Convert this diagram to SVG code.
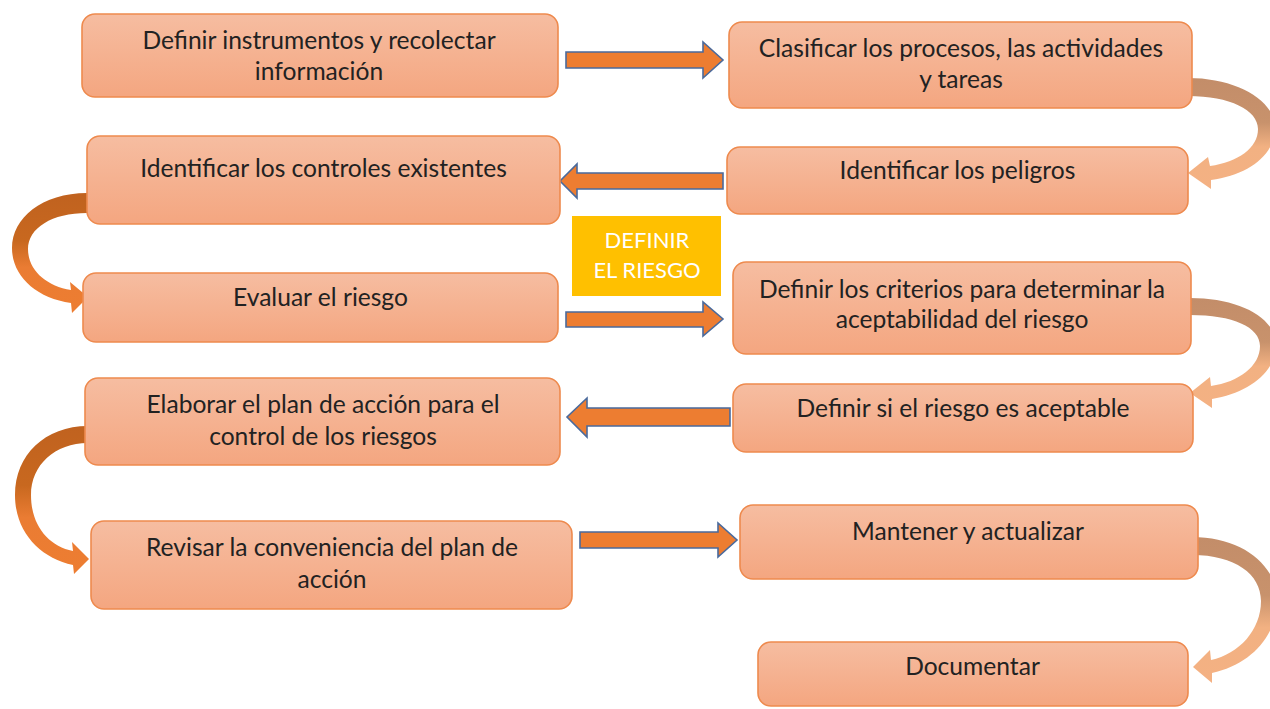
<svg xmlns="http://www.w3.org/2000/svg" width="1270" height="709" viewBox="0 0 1270 709">
<style>
.box{fill:url(#gBox);stroke:#EE8A4E;stroke-width:1.6}
.t{font-family:Lato,"Liberation Sans",Arial,sans-serif;font-size:24.6px;fill:#222;text-anchor:middle}
.yt{font-family:Lato,"Liberation Sans",Arial,sans-serif;font-size:22px;fill:#FFFFFF;text-anchor:middle}
.sa{fill:#ED7D31;stroke:#4A6A9C;stroke-width:1.6;stroke-linejoin:miter}
.cr{fill:url(#gRight)}
.cl{fill:url(#gLeft)}
</style>
<defs>
<linearGradient id="gBox" x1="0" y1="0" x2="0" y2="1">
<stop offset="0" stop-color="#F6BDA1"/>
<stop offset="1" stop-color="#F4A680"/>
</linearGradient>
<linearGradient id="gRight" x1="0" y1="0" x2="0" y2="1">
<stop offset="0" stop-color="#C38D69"/>
<stop offset="0.4" stop-color="#C8926C"/>
<stop offset="0.62" stop-color="#F2B182"/>
<stop offset="1" stop-color="#F4B183"/>
</linearGradient>
<linearGradient id="gLeft" x1="0" y1="0" x2="0" y2="1">
<stop offset="0" stop-color="#C0621F"/>
<stop offset="0.4" stop-color="#C8681F"/>
<stop offset="0.62" stop-color="#EA7C33"/>
<stop offset="1" stop-color="#ED7D31"/>
</linearGradient>
</defs>
<rect width="1270" height="709" fill="#FFFFFF"/>

<g id="connectors">
<polygon class="sa" points="566,52 703,52 703,42 723,60 703,78 703,68 566,68"/>
<polygon class="sa" points="723,173 577,173 577,164 560,181 577,198 577,189 723,189"/>
<polygon class="sa" points="566,312 703,312 703,302 723,319 703,336 703,327 566,327"/>
<polygon class="sa" points="730,408 587,408 587,398 567,417 587,437 587,426 730,426"/>
<polygon class="sa" points="580,532 718,532 718,523 737,540 718,557 718,548 580,548"/>
<path class="cr" d="M1188,78 C1236,78 1275,100 1275,128 C1275,155 1248,175 1211,180 L1211,189 L1188,173 L1208,157 L1210,166 C1238,162 1258,148 1258,129 C1258,110 1230,96 1188,96 Z"/>
<path class="cr" d="M1190,298 C1240,298 1276,318 1276,345 C1276,372 1249,393 1212,399 L1212,408 L1190,393 L1210,377 L1211,386 C1239,382 1260,366 1260,346 C1260,327 1233,315 1190,315 Z"/>
<path class="cr" d="M1192,537 C1242,537 1277,565 1277,600 C1277,636 1251,664 1212,673 L1212,683 L1193,667 L1210,650 L1211,660 C1239,654 1261,630 1261,601 C1261,574 1235,555 1192,555 Z"/>
<path class="cl" d="M87,193 C42,193 12,218 12,248 C12,276 36,298 71,303 L72,313 L88,297 L70,282 L71,290 C46,286 28,270 28,249 C28,228 52,213 87,213 Z"/>
<path class="cl" d="M88,426 C45,426 15,455 15,495 C15,532 40,558 73,565 L74,574 L89,559 L72,542 L73,551 C48,546 31,525 31,495 C31,465 55,443 88,443 Z"/>
</g>

<g id="n1"><rect class="box" x="82" y="14" width="476" height="83" rx="13"/>
<text class="t" x="319" y="49">Definir instrumentos y recolectar</text>
<text class="t" x="319" y="80">información</text></g>

<g id="n2"><rect class="box" x="729" y="22" width="463" height="86" rx="13"/>
<text class="t" x="961" y="57">Clasificar los procesos, las actividades</text>
<text class="t" x="961" y="88">y tareas</text></g>

<g id="n3"><rect class="box" x="727" y="147" width="461" height="67" rx="13"/>
<text class="t" x="957.5" y="179">Identificar los peligros</text></g>

<g id="n4"><rect class="box" x="87" y="136" width="473" height="88" rx="13"/>
<text class="t" x="323.5" y="177">Identificar los controles existentes</text></g>

<g id="n5"><rect class="box" x="83" y="273" width="475" height="69" rx="13"/>
<text class="t" x="320.5" y="306">Evaluar el riesgo</text></g>

<g id="n6"><rect class="box" x="733" y="262" width="458" height="92" rx="13"/>
<text class="t" x="962" y="298">Definir los criterios para determinar la</text>
<text class="t" x="962" y="328">aceptabilidad del riesgo</text></g>

<g id="n7"><rect class="box" x="733" y="384" width="460" height="68" rx="13"/>
<text class="t" x="963" y="417">Definir si el riesgo es aceptable</text></g>

<g id="n8"><rect class="box" x="85" y="378" width="475" height="87" rx="13"/>
<text class="t" x="323" y="413">Elaborar el plan de acción para el</text>
<text class="t" x="323" y="445">control de los riesgos</text></g>

<g id="n9"><rect class="box" x="91" y="521" width="481" height="88" rx="13"/>
<text class="t" x="332" y="556">Revisar la conveniencia del plan de</text>
<text class="t" x="332" y="588">acción</text></g>

<g id="n10"><rect class="box" x="740" y="505" width="458" height="74" rx="13"/>
<text class="t" x="968" y="540">Mantener y actualizar</text></g>

<g id="n11"><rect class="box" x="758" y="642" width="430" height="64" rx="13"/>
<text class="t" x="972.5" y="675">Documentar</text></g>

<g id="label">
<rect x="572" y="216" width="149" height="80" fill="#FFC000"/>
<text class="yt" x="647" y="248">DEFINIR</text>
<text class="yt" x="647" y="278">EL RIESGO</text>
</g>
</svg>
